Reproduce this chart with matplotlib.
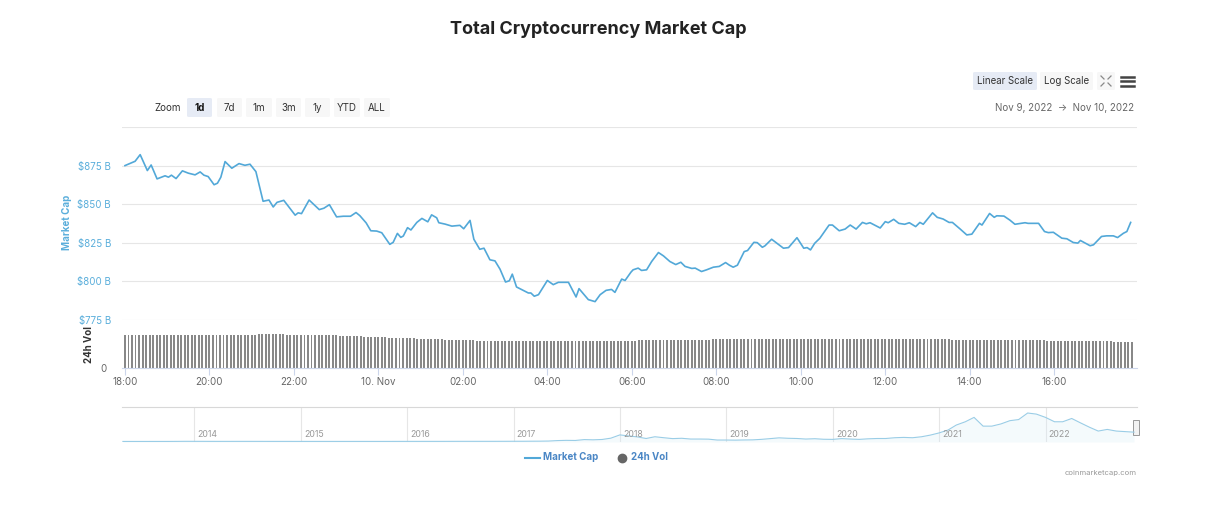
import matplotlib
matplotlib.use('Agg')
import matplotlib.pyplot as plt
from matplotlib.patches import FancyBboxPatch, Rectangle
from matplotlib.lines import Line2D
import numpy as np
import pandas as pd

plt.rcParams['font.family'] = ['Inter', 'DejaVu Sans']

W, H = 1221, 508

# total market cap, hours after Nov 9 18:00 -> $B
mcap_hours = [0.00, 0.24, 0.36, 0.53, 0.62, 0.76, 0.95, 1.03, 1.10, 1.21, 1.36, 1.50, 1.66, 1.78, 1.87, 1.97,
              2.11, 2.19, 2.27, 2.37, 2.53, 2.70, 2.84, 2.96, 3.10, 3.27, 3.41, 3.51, 3.60, 3.76, 3.91, 4.03,
              4.10, 4.18, 4.36, 4.60, 4.71, 4.84, 5.01, 5.17, 5.34, 5.47, 5.56, 5.71, 5.82, 5.96, 6.08, 6.27,
              6.35, 6.45, 6.53, 6.59, 6.69, 6.77, 6.91, 7.03, 7.17, 7.26, 7.38, 7.43, 7.58, 7.74, 7.93, 8.02,
              8.17, 8.26, 8.40, 8.50, 8.64, 8.76, 8.88, 9.01, 9.10, 9.17, 9.27, 9.43, 9.55, 9.61, 9.69, 9.79,
              10.00, 10.14, 10.26, 10.50, 10.68, 10.75, 10.97, 11.13, 11.25, 11.39, 11.52, 11.60, 11.76, 11.84,
              11.98, 12.03, 12.15, 12.23, 12.35, 12.47, 12.63, 12.75, 12.90, 13.04, 13.16, 13.26, 13.42, 13.50,
              13.65, 13.77, 13.93, 14.07, 14.22, 14.31, 14.40, 14.50, 14.66, 14.74, 14.89, 14.97, 15.09, 15.15,
              15.31, 15.47, 15.59, 15.71, 15.91, 16.07, 16.15, 16.23, 16.33, 16.45, 16.67, 16.75, 16.91, 17.05,
              17.17, 17.31, 17.46, 17.55, 17.64, 17.88, 18.00, 18.07, 18.20, 18.32, 18.46, 18.57, 18.72, 18.82,
              18.90, 19.12, 19.23, 19.37, 19.51, 19.59, 19.77, 19.93, 20.05, 20.23, 20.29, 20.47, 20.58, 20.64,
              20.81, 20.95, 21.07, 21.31, 21.38, 21.63, 21.77, 21.86, 21.98, 22.18, 22.30, 22.45, 22.56, 22.62,
              22.85, 22.93, 23.12, 23.24, 23.40, 23.50, 23.64, 23.72, 23.81]
mcap_values = [875.0, 877.8, 882.1, 871.8, 875.4, 866.4, 868.4, 867.5, 868.8, 866.6, 871.6, 870.1, 869.0, 870.9, 868.8, 867.9,
               862.6, 863.6, 867.5, 877.6, 873.3, 876.3, 875.2, 875.9, 871.1, 851.9, 852.7, 848.2, 851.2, 852.5, 847.2, 842.9,
               844.4, 843.9, 852.7, 846.5, 847.4, 849.7, 841.8, 842.2, 842.2, 844.6, 842.6, 837.9, 832.8, 832.6, 831.5, 824.0,
               825.3, 831.1, 828.5, 829.4, 834.8, 833.3, 838.2, 840.8, 838.6, 843.1, 841.2, 838.0, 837.1, 835.8, 836.3, 834.1,
               839.5, 827.3, 820.8, 821.5, 814.0, 813.3, 807.9, 799.6, 800.4, 804.7, 796.4, 794.2, 792.5, 792.5, 790.4, 791.4,
               800.6, 797.9, 799.4, 799.4, 789.9, 795.3, 788.2, 786.9, 791.4, 794.2, 794.8, 792.9, 801.5, 800.6,
               806.0, 807.5, 808.6, 807.1, 807.5, 812.9, 818.7, 816.5, 812.9, 810.9, 812.4, 809.7, 808.4, 808.6,
               806.4, 807.5, 809.2, 809.7, 812.2, 810.5, 809.2, 810.5, 819.3, 820.0, 825.3, 825.1, 822.1, 823.0,
               827.3, 824.0, 821.5, 821.9, 828.3, 821.5, 821.9, 820.4, 824.7, 827.9, 836.5, 836.5, 832.8, 833.9,
               836.5, 833.9, 838.2, 837.3, 838.0, 834.6, 838.7, 838.0, 840.2, 837.6, 837.0, 838.0, 835.5, 838.2,
               837.0, 844.4, 841.5, 840.4, 838.2, 838.2, 834.0, 830.1, 830.6, 837.6, 836.5, 844.0, 841.5, 842.5,
               842.3, 839.7, 837.0, 838.0, 837.6, 837.6, 832.3, 831.6, 831.8, 828.0, 827.6, 825.2, 824.8, 826.5,
               823.1, 823.7, 829.1, 829.5, 829.5, 828.4, 831.2, 832.3, 838.2]

# 24h volume ($B), one bar every 5 minutes from 18:00
vol_step_min = 5
vol_values = [
    164, 165, 165, 166, 165, 166, 166, 165, 166, 166, 167, 166,
    166, 167, 166, 167, 167, 166, 167, 167, 166, 167, 167, 166,
    167, 166, 167, 167, 166, 167, 167, 166, 167, 167, 167, 166,
    167, 167, 168, 168, 169, 170, 170, 169, 168, 168, 167, 167,
    167, 166, 167, 166, 166, 166, 165, 165, 165, 164, 164, 164,
    163, 162, 162, 161, 160, 159, 158, 158, 157, 156, 156, 155,
    154, 153, 153, 152, 151, 150, 150, 149, 149, 148, 148, 147,
    147, 146, 146, 145, 144, 144, 143, 142, 141, 141, 140, 140,
    139, 139, 138, 138, 137, 137, 137, 137, 136, 136, 136, 136,
    136, 136, 136, 136, 136, 136, 136, 136, 136, 136, 136, 136,
    136, 136, 136, 136, 136, 136, 135, 136, 136, 136, 136, 136,
    136, 136, 136, 137, 137, 137, 137, 137, 137, 137, 137, 137,
    137, 137, 138, 138, 138, 138, 139, 139, 139, 139, 140, 140,
    140, 140, 141, 141, 141, 141, 142, 142, 142, 142, 142, 143,
    143, 143, 143, 143, 143, 143, 143, 143, 143, 143, 143, 143,
    143, 143, 143, 143, 143, 143, 143, 143, 143, 143, 143, 143,
    143, 143, 143, 143, 144, 144, 144, 143, 143, 143, 143, 143,
    143, 143, 143, 143, 143, 143, 143, 143, 143, 143, 143, 143,
    143, 143, 143, 143, 143, 143, 143, 143, 143, 143, 143, 143,
    143, 143, 143, 143, 143, 143, 143, 142, 142, 142, 142, 142,
    142, 142, 141, 141, 141, 141, 141, 141, 140, 140, 140, 140,
    140, 139, 139, 139, 139, 139, 138, 138, 138, 138, 137, 137,
    137, 136, 136, 136, 135, 135, 135, 135, 134, 134, 134, 134,
    133, 133, 133, 133, 133, 132, 132, 132, 132, 132, 132]

xtick_hours = [0, 2, 4, 6, 8, 10, 12, 14, 16, 18, 20, 22]
xtick_labels = ['18:00', '20:00', '22:00', '10. Nov', '02:00', '04:00', '06:00',
                '08:00', '10:00', '12:00', '14:00', '16:00']
ytick_values = [775, 800, 825, 850, 875, 900]
ytick_labels = ['$775 B', '$800 B', '$825 B', '$850 B', '$875 B', '']

# navigator: monthly total market cap since May 2013 ($B)
nav_start = '2013-05-01'
nav_mcap = [1.3, 1.2, 1.0, 1.3, 1.6, 2.0, 6.0, 12.0,
            10, 9, 7, 6, 6.5, 8, 8, 7.5, 6.5, 5, 5.5, 5,
            4.5, 3.5, 3.5, 3.5, 3.3, 3.4, 4, 4.2, 3.5, 3.5, 4.5, 5.5,
            6.5, 6, 7, 7, 7.5, 9.5, 11, 11, 10.5, 11, 12, 13,
            17, 17, 22, 26, 37, 80, 100, 90, 170, 150, 180, 300,
            600, 500, 420, 270, 430, 340, 260, 290, 220, 220, 210, 130,
            130, 120, 135, 145, 190, 260, 330, 290, 270, 220, 250, 200,
            190, 260, 220, 190, 240, 270, 270, 340, 370, 340, 430, 580,
            780, 1050, 1500, 1800, 2200, 1400, 1400, 1600, 1900, 2000, 2600, 2500,
            2200, 1800, 1800, 2100, 1700, 1300, 950, 1100, 950, 900, 850]
nav_years = list(range(2014, 2023))

zoom_buttons = ['1d', '7d', '1m', '3m', '1y', 'YTD', 'ALL']
zoom_button_x = [(187, 212), (217, 242), (246, 272), (276, 301), (305, 330), (334, 360), (364, 390)]

LINE = '#52a8d8'
LABEL_BLUE = '#5aaedb'
GRID = '#e6e6e6'


def fx(x):
    return x / W


def fy(y):
    return 1 - y / H


def button(fig, x0, x1, y0, y1, color):
    fig.add_artist(FancyBboxPatch((fx(x0), fy(y1)), fx(x1) - fx(x0), fy(y0) - fy(y1),
                                  boxstyle='round,pad=0,rounding_size=0.002',
                                  transform=fig.transFigure, fc=color, ec='none'))


fig = plt.figure(figsize=(W / 100, H / 100), dpi=100)
fig.patch.set_facecolor('white')

x_left, x_right = 122, 1137
t_min, t_max = -0.07, 23.96

# --- price panel
ax = fig.add_axes([fx(x_left), fy(320), fx(x_right) - fx(x_left), fy(127) - fy(320)])
ax.plot(mcap_hours, mcap_values, color=LINE, lw=1.2, solid_joinstyle='round')
ax.set_xlim(t_min, t_max)
ax.set_ylim(775, 900)
ax.set_yticks(ytick_values)
ax.set_yticklabels(ytick_labels)
ax.grid(axis='y', color=GRID, lw=0.8)
ax.set_axisbelow(True)
ax.tick_params(axis='y', length=0, pad=8, labelsize=7, labelcolor=LABEL_BLUE)
ax.tick_params(axis='x', bottom=False, labelbottom=False)
for s in ax.spines.values():
    s.set_visible(False)
ax.patch.set_alpha(0)

# --- volume panel
ax_vol = fig.add_axes([fx(x_left), fy(368), fx(x_right) - fx(x_left), fy(326) - fy(368)])
vol_t = np.arange(len(vol_values)) * vol_step_min / 60.0
ax_vol.bar(vol_t, vol_values, width=0.046, color='#888888', linewidth=0)
ax_vol.set_xlim(t_min, t_max)
ax_vol.set_ylim(0, 210)
ax_vol.set_yticks([0])
ax_vol.set_yticklabels(['0'])
ax_vol.tick_params(axis='y', length=0, pad=11, labelsize=7, labelcolor='#666666')
ax_vol.set_xticks(xtick_hours)
ax_vol.set_xticklabels(xtick_labels)
ax_vol.tick_params(axis='x', length=5, width=0.8, color='#ccd6eb', pad=1.5,
                   labelsize=7, labelcolor='#666666')
for s in ['top', 'right', 'left']:
    ax_vol.spines[s].set_visible(False)
ax_vol.spines['bottom'].set_color('#ccd6eb')
ax_vol.patch.set_alpha(0)

# --- navigator
ax_nav = fig.add_axes([fx(x_left), fy(442), fx(x_right) - fx(x_left), fy(407) - fy(442)])
nav_dates = pd.date_range(nav_start, periods=len(nav_mcap), freq='MS')
nav_x = nav_dates.year + (nav_dates.dayofyear - 1) / 365.25
ax_nav.fill_between(nav_x, nav_mcap, -50, color='#d6ecf7', alpha=0.25, lw=0)
ax_nav.plot(nav_x, nav_mcap, color='#9acde6', lw=0.8)
ax_nav.set_xlim(2013.32, 2022.86)
ax_nav.set_ylim(-50, 3150)
for yr in nav_years:
    ax_nav.axvline(yr, color=GRID, lw=0.8, zorder=0)
    ax_nav.text(yr + 0.03, 0.22, str(yr), transform=ax_nav.get_xaxis_transform(),
                fontsize=6.3, color='#999999', va='center', ha='left')
ax_nav.set_xticks([])
ax_nav.set_yticks([])
for s in ['bottom', 'right', 'left']:
    ax_nav.spines[s].set_visible(False)
ax_nav.spines['top'].set_color('#d8d8d8')
ax_nav.add_patch(Rectangle((0.996, 0.2), 0.006, 0.42, transform=ax_nav.transAxes,
                           fc='#f2f2f2', ec='#999999', lw=0.7, clip_on=False))

# --- title and controls
fig.text(0.49, fy(30), 'Total Cryptocurrency Market Cap', ha='center', va='center',
         fontsize=13, fontweight='bold', color='#222222')

fig.text(fx(168), fy(107.5), 'Zoom', ha='center', va='center', fontsize=7, color='#333333')
for lab, (x0, x1) in zip(zoom_buttons, zoom_button_x):
    sel = lab == '1d'
    button(fig, x0, x1, 98, 117, '#e6ebf5' if sel else '#f7f7f7')
    fig.text(fx((x0 + x1) / 2), fy(107.5), lab, ha='center', va='center', fontsize=7,
             color='#111111' if sel else '#333333', fontweight='bold' if sel else 'normal')

button(fig, 973, 1037, 72, 90, '#e6ebf5')
fig.text(fx(1005), fy(81), 'Linear Scale', ha='center', va='center', fontsize=7, color='#333333')
button(fig, 1040, 1093, 72, 90, '#f7f7f7')
fig.text(fx(1066.5), fy(81), 'Log Scale', ha='center', va='center', fontsize=7, color='#333333')
button(fig, 1097, 1115, 72, 90, '#f7f7f7')
for (xa, ya, xb, yb) in [(1101, 76, 1104, 79), (1111, 76, 1108, 79), (1101, 86, 1104, 83), (1111, 86, 1108, 83)]:
    fig.add_artist(Line2D([fx(xa), fx(xb)], [fy(ya), fy(yb)], color='#888888', lw=0.9))
for yy in [77, 81.5, 86]:
    fig.add_artist(Line2D([fx(1121), fx(1134)], [fy(yy), fy(yy)], color='#444444', lw=1.8))

fig.text(fx(1134), fy(107.5), 'Nov 9, 2022  \u2192  Nov 10, 2022', ha='right', va='center',
         fontsize=7, color='#666666')

fig.text(fx(67), fy(222), 'Market Cap', rotation=90, ha='center', va='center',
         fontsize=7, fontweight='bold', color=LABEL_BLUE)
fig.text(fx(89), fy(345), '24h Vol', rotation=90, ha='center', va='center',
         fontsize=7, fontweight='bold', color='#333333')

# --- legend
fig.add_artist(Line2D([fx(525), fx(540)], [fy(457.5), fy(457.5)], color=LINE, lw=1.5))
fig.text(fx(543), fy(457.5), 'Market Cap', ha='left', va='center', fontsize=7,
         fontweight='bold', color='#4a86c5')
fig.add_artist(Line2D([fx(622)], [fy(457.5)], marker='o', markersize=6, color='#666666', lw=0))
fig.text(fx(631), fy(457.5), '24h Vol', ha='left', va='center', fontsize=7,
         fontweight='bold', color='#4a86c5')

fig.text(fx(1137), fy(473), 'coinmarketcap.com', ha='right', va='center', fontsize=5.5, color='#999999')

fig.savefig('out.png', dpi=100, facecolor='white')
